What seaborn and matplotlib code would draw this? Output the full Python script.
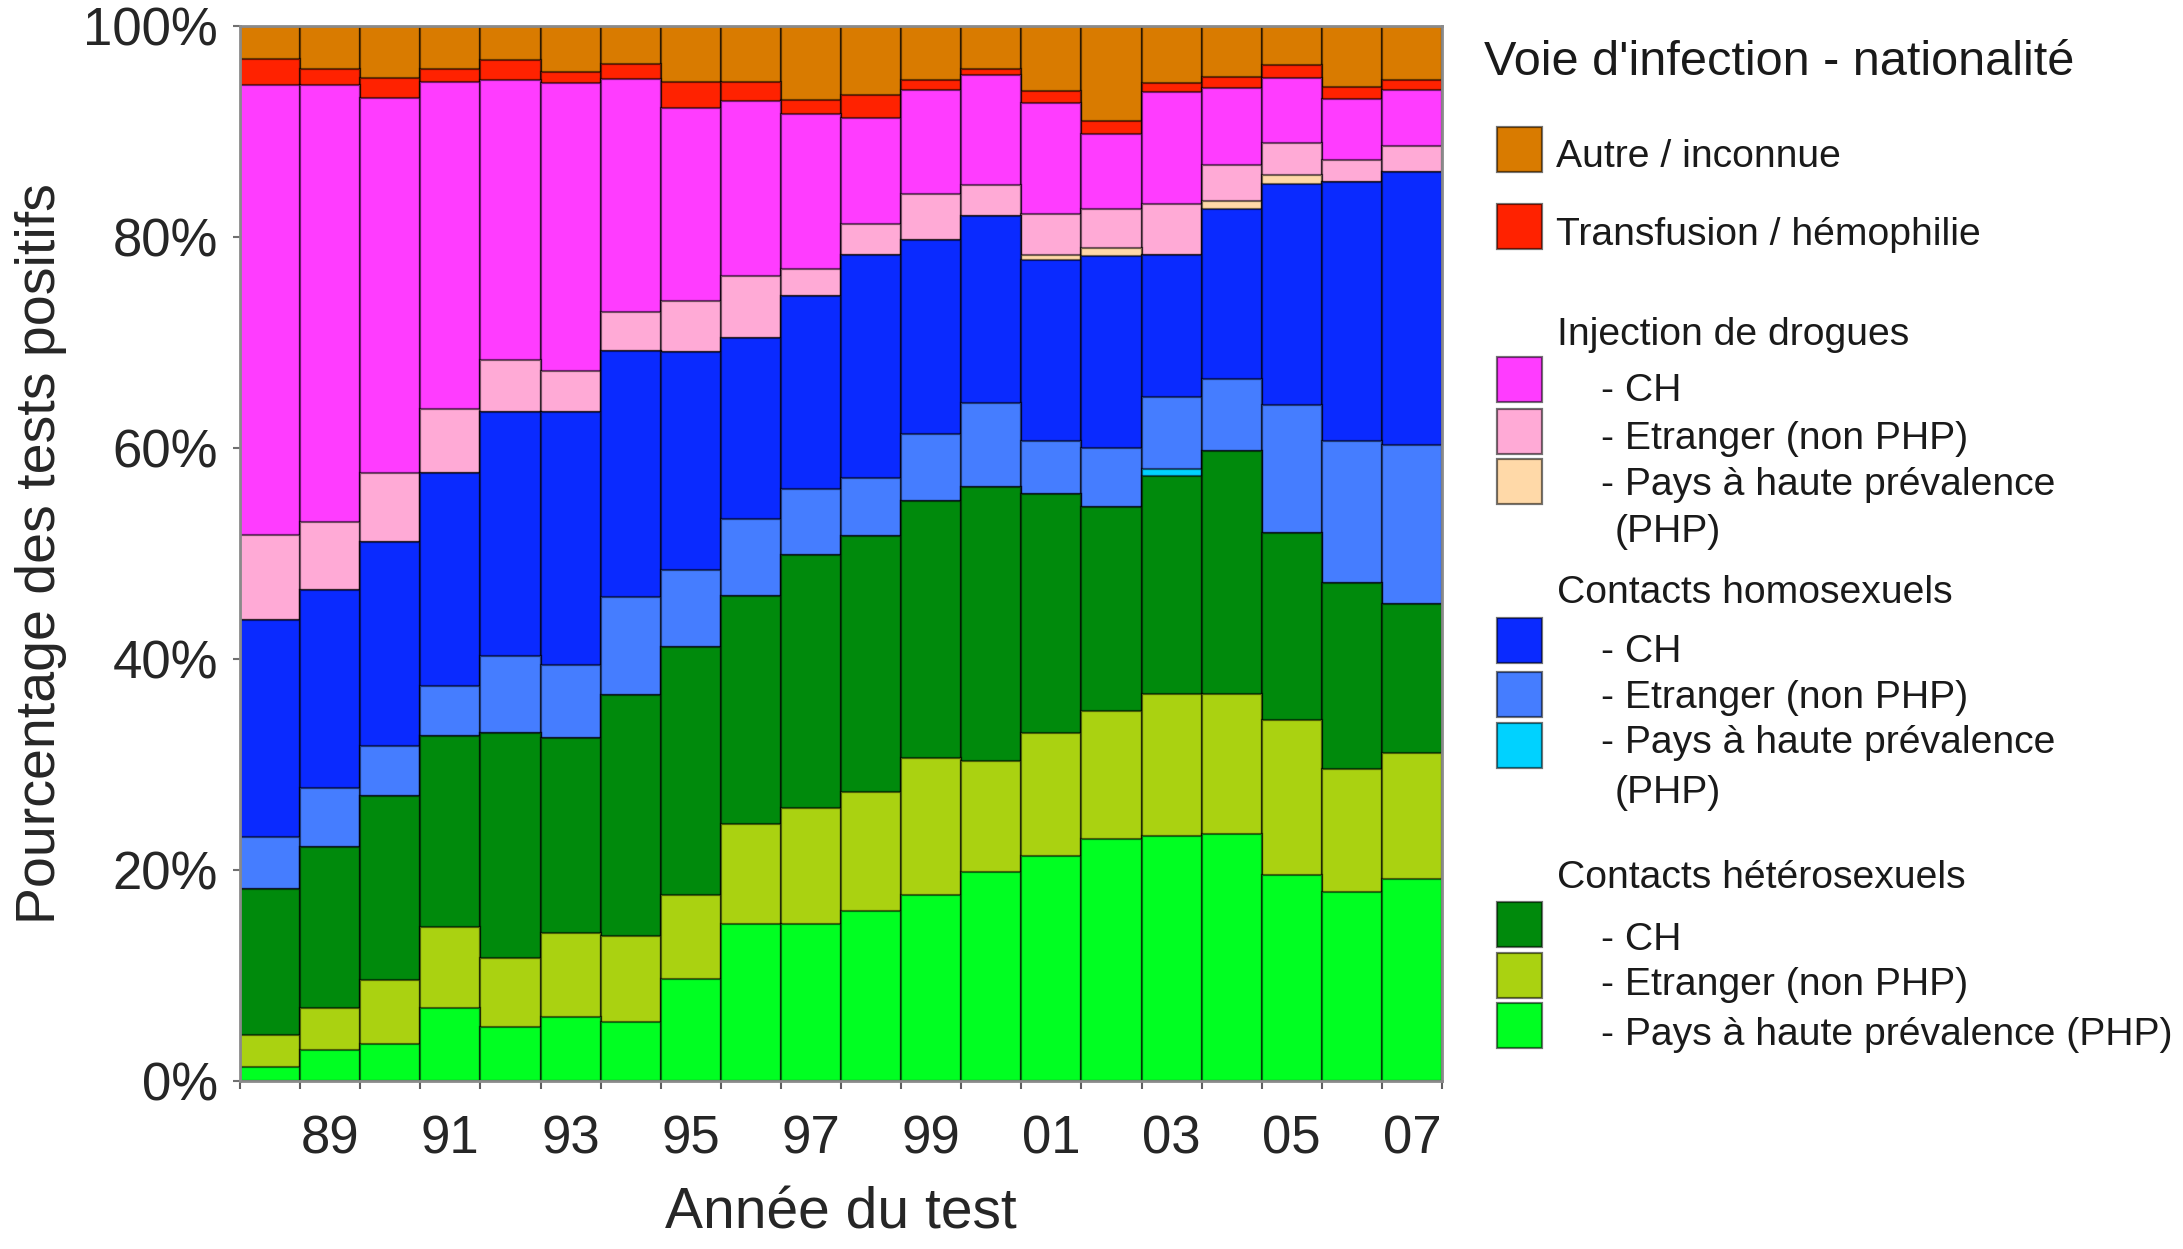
import matplotlib
matplotlib.use('Agg')
import matplotlib.pyplot as plt
from matplotlib.patches import Rectangle
import numpy as np
import pandas as pd
import seaborn as sns

# ---- données (% des tests positifs, par année) ----
years = [str(y) for y in range(1988, 2008)]
tick_years = ['89', '91', '93', '95', '97', '99', '01', '03', '05', '07']

het_php  = [1.3, 2.9, 3.5, 6.9, 5.1, 6.1, 5.6, 9.7, 14.9, 14.9, 16.1, 17.6, 19.8, 21.3, 22.9, 23.2, 23.4, 19.5, 17.9, 19.1]
het_etr  = [3.1, 4.0, 6.1, 7.7, 6.6, 7.9, 8.1, 7.9, 9.5, 11.0, 11.3, 13.0, 10.5, 11.7, 12.2, 13.5, 13.3, 14.7, 11.7, 12.0]
het_ch   = [13.8, 15.3, 17.4, 18.1, 21.3, 18.5, 22.9, 23.5, 21.6, 24.0, 24.3, 24.4, 26.0, 22.6, 19.3, 20.6, 23.0, 17.7, 17.6, 14.1]
homo_php = [0, 0, 0, 0, 0, 0, 0, 0, 0, 0, 0, 0, 0, 0, 0, 0.7, 0, 0, 0, 0]
homo_etr = [4.9, 5.6, 4.8, 4.7, 7.3, 6.9, 9.3, 7.3, 7.3, 6.2, 5.5, 6.3, 8.0, 5.1, 5.6, 6.8, 6.8, 12.2, 13.5, 15.1]
homo_ch  = [20.6, 18.7, 19.3, 20.2, 23.1, 24.0, 23.3, 20.7, 17.1, 18.3, 21.1, 18.4, 17.7, 17.1, 18.2, 13.5, 16.2, 20.9, 24.5, 25.9]
idu_php  = [0, 0, 0, 0, 0, 0, 0, 0, 0, 0, 0, 0, 0, 0.5, 0.8, 0, 0.7, 0.9, 0, 0]
idu_etr  = [8.1, 6.5, 6.5, 6.1, 4.9, 3.9, 3.7, 4.8, 5.9, 2.6, 2.9, 4.4, 2.9, 3.9, 3.7, 4.8, 3.4, 3.0, 2.1, 2.4]
idu_ch   = [42.6, 41.4, 35.6, 31.0, 26.6, 27.3, 22.1, 18.3, 16.6, 14.7, 10.1, 9.8, 10.5, 10.5, 7.1, 10.6, 7.3, 6.2, 5.8, 5.3]
transf   = [2.5, 1.5, 1.9, 1.2, 1.9, 1.0, 1.4, 2.5, 1.8, 1.3, 2.2, 1.0, 0.5, 1.1, 1.2, 0.9, 1.1, 1.2, 1.1, 1.0]
autre    = [3.1, 4.1, 4.9, 4.1, 3.2, 4.4, 3.6, 5.3, 5.3, 7.0, 6.5, 5.1, 4.1, 6.2, 9.0, 5.4, 4.8, 3.7, 5.8, 5.1]

# empilement du bas vers le haut
layers = [het_php, het_etr, het_ch, homo_php, homo_etr, homo_ch,
          idu_php, idu_etr, idu_ch, transf, autre]
colors = ['#00ff22', '#aad211', '#008a0c', '#00d2ff', '#457dff', '#0a2aff',
          '#ffd9a8', '#ffaad6', '#ff3cff', '#ff2200', '#d97b00']

W, H = 2183, 1249
def fx(x):
    return x / W
def fy(y):
    return 1 - y / H

sns.set_style('white')
plt.rcParams['font.family'] = ['Liberation Sans', 'DejaVu Sans']
plt.rcParams['text.color'] = '#1a1a1a'

fig = plt.figure(figsize=(W / 100, H / 100), dpi=100)
ax = fig.add_axes([fx(240), fy(1081), (1442 - 240) / W, (1081 - 26) / H])

edge = (0, 0, 0, 0.55)
cum = np.cumsum(np.array(layers, dtype=float), axis=0)
df = pd.DataFrame({'annee': years})
# barres cumulées dessinées du haut vers le bas
for i in reversed(range(len(layers))):
    df['val'] = cum[i]
    sns.barplot(data=df, x='annee', y='val', color=colors[i], saturation=1,
                width=1.0, edgecolor=edge, linewidth=1.6, errorbar=None, ax=ax)

ax.set_xlim(-0.5, len(years) - 0.5)
ax.set_ylim(0, 100)
ax.set_xticks(np.arange(1, len(years), 2))
ax.set_xticklabels(tick_years)
ax.set_xticks(np.arange(-0.5, len(years), 1), minor=True)
ax.tick_params(axis='x', which='major', length=0, pad=24, labelsize=38)
ax.tick_params(axis='x', which='minor', length=6, width=1.5, color='#606060', direction='out', bottom=True)
ax.set_yticks(np.arange(0, 101, 20))
ax.set_yticklabels([f'{v}%' for v in range(0, 101, 20)])
ax.tick_params(axis='y', length=5, width=1.5, color='#707070', pad=11, labelsize=38, left=True)

for s in ax.spines.values():
    s.set_color('#8a8a8a')
    s.set_linewidth(2)

ax.set_xlabel('Année du test', fontsize=41)
ax.set_ylabel('Pourcentage des tests positifs', fontsize=40)
ax.xaxis.set_label_coords(0.5, -0.100)
ax.yaxis.set_label_coords(-0.144, 0.5)

# ---- légende ----
fig.text(fx(1484), fy(75), "Voie d'infection - nationalité", fontsize=35, va='baseline')

# (couleur, haut du carré, texte, x du texte, ligne de base)
legend_rows = [
    (colors[10], 127, 'Autre / inconnue', 1556, 167),
    (colors[9], 204, 'Transfusion / hémophilie', 1556, 245),
    (None, None, 'Injection de drogues', 1557, 345),
    (colors[8], 357, '- CH', 1601, 401),
    (colors[7], 409, '- Etranger (non PHP)', 1601, 449),
    (colors[6], 459, '- Pays à haute prévalence', 1601, 495),
    (None, None, '(PHP)', 1615, 542),
    (None, None, 'Contacts homosexuels', 1557, 603),
    (colors[5], 618, '- CH', 1601, 662),
    (colors[4], 672, '- Etranger (non PHP)', 1601, 708),
    (colors[3], 723, '- Pays à haute prévalence', 1601, 753),
    (None, None, '(PHP)', 1615, 803),
    (None, None, 'Contacts hétérosexuels', 1557, 888),
    (colors[2], 902, '- CH', 1601, 950),
    (colors[1], 953, '- Etranger (non PHP)', 1601, 995),
    (colors[0], 1003, '- Pays à haute prévalence (PHP)', 1601, 1045),
]
box = 45
for col, top, label, tx, base in legend_rows:
    if col is not None:
        fig.add_artist(Rectangle((fx(1497), fy(top + box)), box / W, box / H,
                                 transform=fig.transFigure, facecolor=col,
                                 edgecolor=edge, linewidth=1.6))
    fig.text(fx(tx), fy(base), label, fontsize=28.2, va='baseline')

fig.savefig('out.png', dpi=100)
